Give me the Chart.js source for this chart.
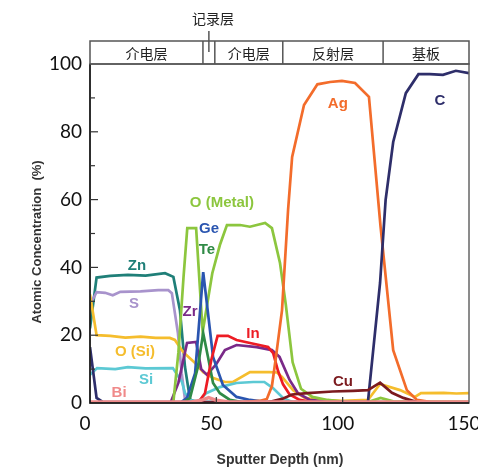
<!DOCTYPE html>
<html>
<head>
<meta charset="utf-8">
<script src="https://cdn.jsdelivr.net/npm/chart.js@4.4.1/dist/chart.umd.min.js"></script>
<style>
  html, body { margin: 0; padding: 0; background: #fff; }
  #wrap { width: 478px; height: 468px; position: relative; }
</style>
</head>
<body>
<div id="wrap"><canvas id="depthChart"></canvas></div>
<script>
// depth profile, x = sputter depth (nm), y = atomic concentration (%)
var znData = [[0,22],[2.6,37],[8,37.5],[15,37.8],[22,37.6],[29.7,38.3],[33,37.2],[35.6,27.4],[37.6,10.6],[39.6,1],[42,0.3],[150,0.3]];
var sData = [[0,29],[2.6,32.7],[6,32.5],[9,31.8],[12,32.8],[20,32.9],[27,33.3],[31,33.3],[32.4,32.4],[34.8,20.6],[36.3,8.8],[37.6,1],[40,0.3],[150,0.2]];
var oSiData = [[0,32],[2.6,20],[8,19.8],[14,19.3],[20,19.6],[26,19.2],[31.6,19.2],[33.6,18.6],[36.9,15],[41.6,11.8],[44.8,9.1],[48.8,7.4],[53.4,6.2],[56.6,6.2],[63.3,9.1],[71,9.1],[74,9],[76,7.7],[80.4,3.8],[85,1.5],[90,0.9],[100,0.6],[110,0.9],[114.8,5.6],[122.7,3.8],[128.6,1.8],[131,2.9],[140,3],[145,2.8],[150,2.9]];
var siData = [[0,8.3],[2.8,10.3],[10,10],[15,10.6],[22,10.2],[32.8,10.3],[36.4,6.2],[37.6,2.9],[40,0.8],[43,0.5],[46,2.9],[51.4,4.7],[58,5.9],[64.6,6.2],[69,6.2],[72.4,4.4],[76.4,1.5],[80,0.3],[150,0.2]];
var biData = [[0,0.3],[40,0.3],[44,0.8],[47,1.6],[50,0.8],[55,0.3],[150,0.3]];
var zrData = [[0,0],[32,0.3],[35,6],[38.4,17.7],[42,18],[44,10],[46.3,8.3],[50,11.5],[53.4,15.6],[58,17.1],[66,16.5],[72,15.6],[75,13.6],[79,6.8],[82.3,2.9],[87,0.9],[95,0.3],[150,0.2]];
var geData = [[0,0],[36,0.2],[38.4,1.5],[41.6,8.8],[44.8,38.6],[46.7,26.5],[48.7,13.6],[52.6,5.3],[58,1.8],[63.3,0.9],[70,0.3],[150,0.2]];
var teData = [[0,0],[37,0.2],[39.6,1.5],[42.7,10.6],[44.8,20.6],[46.7,13.6],[48.7,5.9],[51.4,2.9],[55.4,0.9],[60,0.3],[150,0.2]];
var oMetalData = [[0,0],[33,0.3],[35,15],[37,37],[38.5,51.6],[42,51.6],[44.6,21],[48.4,38.3],[51.4,46.6],[54.2,52.5],[59.4,52.5],[63.3,52],[69.3,53.1],[72,51.6],[75.2,41.3],[77.5,29],[80.2,12],[83.5,4.2],[88,1.8],[94,0.9],[100,0.4],[110,0.3],[115,1.5],[120,0.5],[150,0.3]];
var inData = [[0,0],[43,0.3],[45.5,2.9],[48,12.7],[50.5,19.8],[54.6,19.8],[58,18.6],[63.3,17.7],[67,17.1],[70.5,16.5],[72.5,14.7],[74.4,9.5],[76.4,5.5],[79,2.5],[83,0.9],[88,0.3],[150,0.2]];
var agData = [[0,0.2],[60,0.3],[67,0.6],[70,1.2],[72,5],[73.5,13],[76,27.4],[78.4,57],[80,72.6],[84.7,87.9],[90,94],[95,94.7],[99.7,95],[104.9,94.4],[110.4,90.3],[115,52],[120,15.6],[125.4,3.8],[129.4,0.9],[135,0.3],[150,0.3]];
var cuData = [[0,0],[70,0.2],[72,0.5],[76,1.2],[80,2.5],[86,2.9],[96,3.4],[104,3.6],[110,3.8],[114.8,6],[119.5,3],[124,1.5],[129.4,0.3],[150,0.2]];
var cData = [[0,16.5],[2.6,1.5],[5,0.3],[110,0.3],[114.8,35.4],[117,59.9],[120,77],[125,91.4],[130,97],[134.5,97],[139.7,96.8],[144.8,98],[150,97.3]];

// layer bands on top (nm)
var layerEdges = [0, 44.7, 49.4, 76.3, 116, 150];
var layerNames = ['介电层', '', '介电层', '反射层', '基板'];
var recordLayerName = '记录层';

var yTicks = [0, 20, 40, 60, 80, 100];
var xTicks = [0, 50, 100, 150];

function toPoints(arr) {
    return arr.map(function(p) { return { x: p[0], y: p[1] }; });
}

var series = [
    { label: 'Zn', data: znData, color: '#1f7f78', at: [18.6, 40.4] },
    { label: 'S', data: sData, color: '#a893cc', at: [17.4, 29.2] },
    { label: 'O (Si)', data: oSiData, color: '#f5bd2d', at: [17.8, 15] },
    { label: 'Si', data: siData, color: '#5cc9d4', at: [22.2, 6.8] },
    { label: 'Zr', data: zrData, color: '#7a2a88', at: [39.6, 26.8] },
    { label: 'O (Metal)', data: oMetalData, color: '#8cc63e', at: [52.2, 59] },
    { label: 'Ge', data: geData, color: '#2a55b0', at: [47.1, 51.3] },
    { label: 'Te', data: teData, color: '#2f8a46', at: [46.3, 45.1] },
    { label: 'In', data: inData, color: '#ed1c24', at: [64.5, 20.4] },
    { label: 'Ag', data: agData, color: '#f36c2b', at: [98.1, 88.2] },
    { label: 'C', data: cData, color: '#2e2e6a', at: [138.5, 89.1] },
    { label: 'Cu', data: cuData, color: '#7b1a1e', at: [100.1, 6.2] },
    { label: 'Bi', data: biData, color: '#f08a8a', at: [11.5, 2.9] }
];

var datasets = series.map(function(s, i) {
    return {
        label: s.label,
        data: toPoints(s.data),
        borderColor: s.color,
        backgroundColor: s.color,
        borderWidth: s.label === 'Bi' ? 3.5 : 2.7,
        pointRadius: 0,
        fill: false,
        tension: 0,
        order: s.label === 'Bi' ? 0 : series.length - i
    };
});

// header bands, inward ticks, labels, axis titles
var decorPlugin = {
    id: 'decor',
    afterDraw: function(chart) {
        var ctx = chart.ctx;
        var xs = chart.scales.x, ys = chart.scales.y;
        var area = chart.chartArea;
        ctx.save();

        // frame
        ctx.strokeStyle = '#666';
        ctx.lineWidth = 1.5;
        ctx.strokeRect(area.left, area.top, area.right - area.left, area.bottom - area.top);
        ctx.strokeStyle = '#111';
        ctx.beginPath();
        ctx.moveTo(area.left, area.top);
        ctx.lineTo(area.left, area.bottom);
        ctx.lineTo(area.right, area.bottom);
        ctx.stroke();

        // inward ticks
        ctx.lineWidth = 1.2;
        ctx.strokeStyle = '#333';
        for (var v = 10; v < 100; v += 10) {
            var py = ys.getPixelForValue(v);
            var len = (v % 20 === 0) ? 8 : 5;
            ctx.beginPath();
            ctx.moveTo(area.left, py);
            ctx.lineTo(area.left + len, py);
            ctx.stroke();
        }
        [50, 100].forEach(function(t) {
            var px = xs.getPixelForValue(t);
            ctx.beginPath();
            ctx.moveTo(px, area.bottom);
            ctx.lineTo(px, area.bottom - 6);
            ctx.stroke();
        });

        // layer header
        var top = area.top - 23;
        ctx.strokeStyle = '#555';
        ctx.lineWidth = 1.5;
        ctx.strokeRect(area.left, top, area.right - area.left, area.top - top);
        ctx.font = '14px "Noto Sans CJK SC"';
        ctx.fillStyle = '#222';
        ctx.textAlign = 'center';
        ctx.textBaseline = 'middle';
        for (var i = 0; i < layerNames.length; i++) {
            var x0 = xs.getPixelForValue(layerEdges[i]);
            var x1 = xs.getPixelForValue(layerEdges[i + 1]);
            if (i > 0) {
                ctx.beginPath();
                ctx.moveTo(x0, top);
                ctx.lineTo(x0, area.top);
                ctx.stroke();
            }
            if (layerNames[i]) ctx.fillText(layerNames[i], (x0 + x1) / 2, (top + area.top) / 2 + 1);
        }
        var xr = (xs.getPixelForValue(layerEdges[1]) + xs.getPixelForValue(layerEdges[2])) / 2;
        ctx.fillText(recordLayerName, xr + 4, 19);
        ctx.beginPath();
        ctx.moveTo(xr, 31);
        ctx.lineTo(xr, 52);
        ctx.stroke();

        // series labels
        ctx.font = 'bold 15px "Liberation Sans", Arial';
        series.forEach(function(s) {
            ctx.fillStyle = s.color;
            ctx.fillText(s.label, xs.getPixelForValue(s.at[0]), ys.getPixelForValue(s.at[1]));
        });

        // axis titles
        ctx.fillStyle = '#333';
        ctx.font = 'bold 14px "Liberation Sans", Arial';
        ctx.fillText('Sputter Depth (nm)', 280, 460);
        ctx.font = 'bold 13px "Liberation Sans", Arial';
        ctx.translate(37, 242);
        ctx.rotate(-Math.PI / 2);
        ctx.fillText('Atomic Concentration  (%)', 0, 0);
        ctx.restore();
    }
};

var ctx = document.getElementById('depthChart').getContext('2d');
var depthChart = new Chart(ctx, {
    type: 'line',
    data: { datasets: datasets },
    options: {
        responsive: true,
        maintainAspectRatio: false,
        animation: false,
        layout: { padding: { top: 64, right: 9, left: 0, bottom: 0 } },
        plugins: { legend: { display: false }, tooltip: { enabled: false } },
        scales: {
            x: {
                type: 'linear',
                min: 0,
                max: 150,
                border: { display: false },
                grid: { display: false, drawTicks: false },
                afterBuildTicks: function(scale) {
                    scale.ticks = xTicks.map(function(v) { return { value: v }; });
                },
                afterFit: function(scale) {
                    scale.height = 65;
                    scale.paddingLeft = 0;
                    scale.paddingRight = 0;
                },
                ticks: {
                    padding: 9,
                    labelOffset: -5,
                    color: '#111',
                    font: { family: 'Lato', size: 19, weight: '400' },
                    maxRotation: 0
                }
            },
            y: {
                min: 0,
                max: 100,
                border: { display: false },
                grid: { display: false, drawTicks: false },
                afterBuildTicks: function(scale) {
                    scale.ticks = yTicks.map(function(v) { return { value: v }; });
                },
                afterFit: function(scale) {
                    scale.width = 90;
                    scale.paddingTop = 0;
                    scale.paddingBottom = 0;
                },
                ticks: {
                    padding: 8,
                    color: '#111',
                    font: { family: 'Lato', size: 19, weight: '400' }
                }
            }
        }
    },
    plugins: [decorPlugin]
});
</script>
</body>
</html>
